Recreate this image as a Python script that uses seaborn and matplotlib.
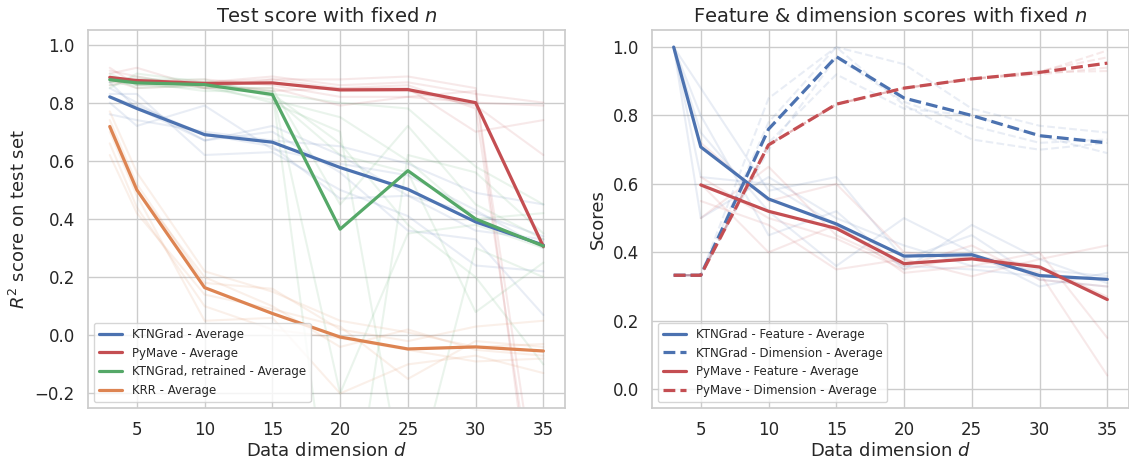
import numpy as np
import pandas as pd
import matplotlib
matplotlib.use("Agg")
import matplotlib.pyplot as plt
import seaborn as sns

sns.set_theme(style="whitegrid", palette="deep")
plt.rcParams['font.family'] = ['DejaVu Sans']

nan = np.nan
dims = [3, 5, 10, 15, 20, 25, 30, 35]

# ---------------- Left panel: test R^2 ----------------
avg_ktn = [0.82, 0.78, 0.69, 0.664, 0.577, 0.502, 0.39, 0.31]
avg_mave = [0.887, 0.876, 0.866, 0.868, 0.844, 0.845, 0.80, 0.305]
avg_retr = [0.879, 0.868, 0.862, 0.828, 0.365, 0.566, 0.40, 0.307]
avg_krr = [0.718, 0.50, 0.164, 0.075, -0.006, -0.047, -0.04, -0.054]

runs_ktn = [
    [0.85, 0.80, 0.67, 0.72, 0.62, 0.48, 0.36, 0.33],
    [0.80, 0.72, 0.79, 0.64, 0.59, 0.55, 0.43, 0.30],
    [0.83, 0.83, 0.62, 0.63, 0.50, 0.41, 0.24, 0.22],
    [0.76, 0.74, 0.70, 0.67, 0.65, 0.59, 0.49, 0.45],
    [0.87, 0.78, 0.67, 0.70, 0.56, 0.36, 0.33, 0.07],
    [0.82, 0.79, 0.69, 0.65, 0.47, 0.48, 0.42, 0.34],
]
runs_mave = [
    [0.92, 0.86, 0.87, 0.89, 0.86, 0.87, 0.83, 0.80],
    [0.90, 0.92, 0.85, 0.88, 0.88, 0.89, 0.85, -0.90],
    [0.89, 0.87, 0.88, 0.86, 0.82, 0.82, 0.80, 0.79],
    [0.87, 0.88, 0.86, 0.84, 0.85, 0.85, 0.70, 0.74],
    [0.88, 0.85, 0.86, 0.87, 0.84, 0.84, 0.79, 0.62],
    [0.91, 0.89, 0.85, 0.85, 0.79, 0.82, 0.84, -0.70],
    [0.86, 0.88, 0.87, 0.88, 0.85, 0.86, 0.78, -0.80],
]
runs_retr = [
    [0.88, 0.87, 0.86, 0.83, 0.80, 0.78, 0.58, 0.45],
    [0.85, 0.90, 0.87, 0.84, -0.20, 0.35, 0.38, 0.30],
    [0.90, 0.86, 0.85, 0.81, 0.75, 0.60, 0.40, 0.42],
    [0.87, 0.88, 0.88, 0.82, 0.62, 0.56, 0.08, 0.25],
    [0.89, 0.85, 0.86, 0.80, 0.70, -0.60, 0.30, 0.20],
    [0.86, 0.87, 0.84, 0.84, -0.90, 0.62, 0.56, 0.35],
    [0.88, 0.86, 0.87, 0.83, 0.66, 0.38, 0.20, -0.10],
    [0.87, 0.89, 0.85, 0.85, 0.45, 0.72, 0.45, 0.33],
]
runs_krr = [
    [0.77, 0.56, 0.22, 0.15, 0.05, 0.01, -0.04, -0.03],
    [0.74, 0.52, 0.18, 0.16, 0.02, -0.02, 0.03, 0.05],
    [0.70, 0.48, 0.05, 0.06, -0.20, -0.10, -0.07, -0.13],
    [0.66, 0.44, 0.10, 0.02, -0.01, -0.05, -0.09, -0.08],
    [0.62, 0.42, 0.14, 0.09, 0.03, -0.15, -0.02, -0.04],
    [0.72, 0.50, 0.20, 0.10, -0.04, 0.02, -0.05, -0.07],
]

# ---------------- Right panel: feature & dimension scores ----------------
avg_ktn_feat = [1.0, 0.708, 0.556, 0.483, 0.389, 0.393, 0.332, 0.321]
avg_ktn_dim = [0.333, 0.333, 0.76, 0.972, 0.851, 0.80, 0.741, 0.72]
avg_mave_feat = [nan, 0.597, 0.52, 0.47, 0.367, 0.381, 0.357, 0.262]
avg_mave_dim = [0.333, 0.333, 0.714, 0.833, 0.88, 0.907, 0.926, 0.953]

runs_ktn_feat = [
    [1.0, 0.88, 0.58, 0.62, 0.38, 0.45, 0.32, 0.30],
    [1.0, 0.50, 0.62, 0.50, 0.42, 0.36, 0.35, 0.33],
    [1.0, 0.75, 0.52, 0.36, 0.50, 0.40, 0.30, 0.34],
    [1.0, 0.80, 0.45, 0.52, 0.35, 0.48, 0.38, 0.31],
    [1.0, 0.62, 0.60, 0.48, 0.36, 0.35, 0.33, 0.32],
]
runs_mave_feat = [
    [nan, 0.72, 0.55, 0.60, 0.40, 0.38, 0.34, 0.04],
    [nan, 0.50, 0.65, 0.45, 0.36, 0.42, 0.32, 0.30],
    [nan, 0.60, 0.40, 0.48, 0.34, 0.36, 0.40, 0.15],
    [nan, 0.55, 0.48, 0.35, 0.38, 0.33, 0.38, 0.42],
    [nan, 0.62, 0.50, 0.44, 0.35, 0.39, 0.36, 0.27],
]
runs_ktn_dim = [
    [0.333, 0.333, 0.85, 1.0, 0.95, 0.82, 0.77, 0.75],
    [0.333, 0.333, 0.78, 1.0, 0.83, 0.73, 0.70, 0.72],
    [0.333, 0.333, 0.72, 0.92, 0.82, 0.80, 0.74, 0.69],
    [0.333, 0.333, 0.70, 0.97, 0.84, 0.77, 0.72, 0.73],
]
runs_mave_dim = [
    [0.333, 0.333, 0.714, 0.833, 0.88, 0.907, 0.926, 0.99],
    [0.333, 0.333, 0.714, 0.833, 0.88, 0.907, 0.93, 0.97],
    [0.333, 0.333, 0.714, 0.833, 0.88, 0.907, 0.92, 0.94],
    [0.333, 0.333, 0.714, 0.833, 0.88, 0.907, 0.926, 0.93],
]

pal = sns.color_palette("deep")
c_blue, c_orange, c_green, c_red = pal[0], pal[1], pal[2], pal[3]

fig = plt.figure(figsize=(11.29, 4.61), dpi=100)
ax1 = fig.add_axes([0.078, 0.115, 0.4225, 0.82])
ax2 = fig.add_axes([0.5775, 0.115, 0.4225, 0.82])

FAINT_A = 0.12
FAINT_LW = 1.5
AVG_LW = 2.3


def faint(ax, runs, color, dashed=False):
    for r in runs:
        sns.lineplot(x=dims, y=r, ax=ax, color=color, alpha=FAINT_A, lw=FAINT_LW,
                     linestyle="--" if dashed else "-", legend=False)


def avg(ax, vals, color, label, dashed=False):
    sns.lineplot(x=dims, y=vals, ax=ax, color=color, lw=AVG_LW, label=label,
                 linestyle="--" if dashed else "-")


# Left
faint(ax1, runs_ktn, c_blue)
faint(ax1, runs_mave, c_red)
faint(ax1, runs_retr, c_green)
faint(ax1, runs_krr, c_orange)
avg(ax1, avg_ktn, c_blue, "KTNGrad - Average")
avg(ax1, avg_mave, c_red, "PyMave - Average")
avg(ax1, avg_retr, c_green, "KTNGrad, retrained - Average")
avg(ax1, avg_krr, c_orange, "KRR - Average")

ax1.set_xlim(1.4, 36.6)
ax1.set_ylim(-0.25, 1.05)
ax1.set_xticks([5, 10, 15, 20, 25, 30, 35])
ax1.set_yticks([-0.2, 0.0, 0.2, 0.4, 0.6, 0.8, 1.0])
ax1.set_title("Test score with fixed $n$", fontsize=14)
ax1.set_xlabel("Data dimension $d$", fontsize=13, labelpad=2)
ax1.set_ylabel("$R^2$ score on test set", fontsize=13)
ax1.tick_params(labelsize=12)
ax1.legend(loc="lower left", fontsize=8.5, framealpha=0.8)

# Right
faint(ax2, runs_ktn_feat, c_blue)
faint(ax2, runs_mave_feat, c_red)
faint(ax2, runs_ktn_dim, c_blue, dashed=True)
faint(ax2, runs_mave_dim, c_red, dashed=True)
avg(ax2, avg_ktn_feat, c_blue, "KTNGrad - Feature - Average")
avg(ax2, avg_ktn_dim, c_blue, "KTNGrad - Dimension - Average", dashed=True)
avg(ax2, avg_mave_feat, c_red, "PyMave - Feature - Average")
avg(ax2, avg_mave_dim, c_red, "PyMave - Dimension - Average", dashed=True)

ax2.set_xlim(1.4, 36.6)
ax2.set_ylim(-0.055, 1.05)
ax2.set_xticks([5, 10, 15, 20, 25, 30, 35])
ax2.set_yticks([0.0, 0.2, 0.4, 0.6, 0.8, 1.0])
ax2.set_title("Feature & dimension scores with fixed $n$", fontsize=14)
ax2.set_xlabel("Data dimension $d$", fontsize=13, labelpad=2)
ax2.set_ylabel("Scores", fontsize=13)
ax2.tick_params(labelsize=12)
ax2.legend(loc="lower left", fontsize=8.5, framealpha=0.8)

fig.savefig("out.png", dpi=100)
